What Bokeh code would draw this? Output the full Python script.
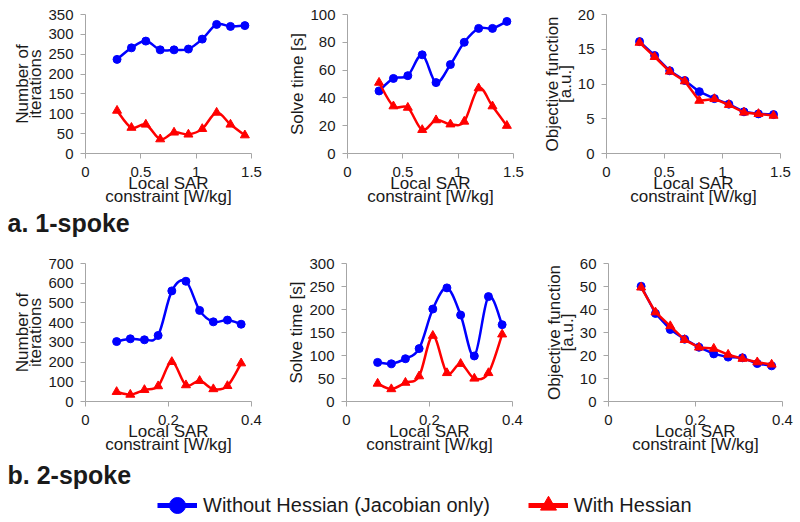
import numpy as np
from bokeh.plotting import figure
from bokeh.layouts import column, row
from bokeh.models import Range1d, FixedTicker, NumeralTickFormatter, Legend, LegendItem
from bokeh.embed import file_html
from bokeh.resources import INLINE
from bokeh.core.properties import value

# ---------------- data ----------------
sar_1spoke = [0.285, 0.415, 0.545, 0.675, 0.80, 0.93, 1.055, 1.185, 1.31, 1.44]
sar_2spoke = [0.075, 0.108, 0.142, 0.175, 0.208, 0.242, 0.275, 0.308, 0.342, 0.375]

iter1_jac = [237, 266, 283, 261, 261, 263, 288, 325, 320, 322]
iter1_hes = [108, 65, 73, 36, 53, 48, 62, 103, 73, 46]
time1_jac = [45, 54, 56, 71, 51, 64, 80, 90, 90, 95]
time1_hes = [51, 34, 33, 17, 24, 21, 23, 47, 34, 20]
obj1_jac = [16.1, 14.1, 11.9, 10.5, 8.9, 7.9, 7.1, 6.0, 5.7, 5.6]
obj1_hes = [15.95, 13.9, 11.8, 10.4, 7.6, 7.85, 7.0, 5.9, 5.7, 5.45]

iter2_jac = [304, 318, 313, 335, 561, 610, 462, 404, 413, 392]
iter2_hes = [49, 35, 59, 78, 201, 83, 105, 63, 79, 194]
time2_jac = [85, 82, 93, 115, 201, 247, 188, 99, 228, 167]
time2_hes = [39, 27, 41, 55, 143, 62, 82, 50, 62, 146]
obj2_jac = [50.1, 38.3, 31.3, 27.1, 23.6, 20.7, 19.3, 19.0, 16.5, 15.5]
obj2_hes = [49.6, 38.8, 32.8, 26.8, 23.5, 23.0, 20.4, 18.6, 17.1, 16.1]

xticks_1spoke = [0, 0.5, 1, 1.5]
xticks_2spoke = [0, 0.2, 0.4]
yticks_iter1 = [0, 50, 100, 150, 200, 250, 300, 350]
yticks_time1 = [0, 20, 40, 60, 80, 100]
yticks_obj1 = [0, 5, 10, 15, 20]
yticks_iter2 = [0, 100, 200, 300, 400, 500, 600, 700]
yticks_time2 = [0, 50, 100, 150, 200, 250, 300]
yticks_obj2 = [0, 10, 20, 30, 40, 50, 60]

label_jac = "Without Hessian (Jacobian only)"
label_hes = "With Hessian"
xlabel = "Local SAR\nconstraint [W/kg]"

BLUE = "#0000ff"
RED = "#ff0000"
AXIS_GRAY = "#a6a6a6"
TEXT = "#1a1a1a"
FONT = "Liberation Sans"


def bezier_parts(x, y):
    """Catmull-Rom (Excel-style smoothed line) bezier segments from data."""
    x = np.asarray(x, float)
    y = np.asarray(y, float)
    n = len(x)
    xp = np.concatenate([[x[0]], x, [x[-1]]])
    yp = np.concatenate([[y[0]], y, [y[-1]]])
    sx, ex, px, nx = xp[1:n], xp[2:n + 1], xp[0:n - 1], xp[3:n + 2]
    sy, ey, py, ny = yp[1:n], yp[2:n + 1], yp[0:n - 1], yp[3:n + 2]
    return dict(x0=sx, y0=sy, x1=ex, y1=ey,
                cx0=sx + (ex - px) / 6, cy0=sy + (ey - py) / 6,
                cx1=ex - (nx - sx) / 6, cy1=ey - (ny - sy) / 6)


def panel(x, yj, yh, xmax, xticks, ymax, yticks, ylabel, smooth,
          frame_w, frame_h, bl, br, bt, bb):
    p = figure(frame_width=frame_w, frame_height=frame_h,
               x_range=Range1d(0, xmax), y_range=Range1d(0, ymax),
               output_backend="svg", toolbar_location=None,
               min_border_left=bl, min_border_right=br,
               min_border_top=bt, min_border_bottom=bb)
    p.outline_line_color = None
    p.grid.visible = False
    p.xaxis.ticker = FixedTicker(ticks=xticks)
    p.yaxis.ticker = FixedTicker(ticks=yticks)
    p.xaxis.formatter = NumeralTickFormatter(format="0.[0]")
    p.xaxis.axis_label = xlabel
    p.yaxis.axis_label = ylabel
    for ax in (p.xaxis[0], p.yaxis[0]):
        ax.axis_line_color = AXIS_GRAY
        ax.major_tick_line_color = AXIS_GRAY
        ax.minor_tick_line_color = None
        ax.major_tick_in = 0
        ax.major_tick_out = 5
        ax.major_label_text_font = FONT
        ax.major_label_text_font_size = "15px"
        ax.major_label_text_color = TEXT
        ax.axis_label_text_font = FONT
        ax.axis_label_text_font_size = "17px"
        ax.axis_label_text_font_style = "normal"
        ax.axis_label_text_color = TEXT
        ax.axis_label_text_line_height = 0.7
    p.xaxis.major_label_standoff = 8
    p.xaxis.axis_label_standoff = -6
    p.yaxis.major_label_standoff = 7
    p.yaxis.axis_label_standoff = 0

    for yy, col, marker, sz in ((yj, BLUE, "circle", 8), (yh, RED, "triangle", 9)):
        if smooth:
            p.bezier(line_color=col, line_width=2.5, **bezier_parts(x, yy))
        else:
            p.line(x, yy, line_color=col, line_width=2.5)
        p.scatter(x, yy, marker=marker, size=sz, fill_color=col, line_color=col)
    return p


# row 1 : 1-spoke
f1 = panel(sar_1spoke, iter1_jac, iter1_hes, 1.5, xticks_1spoke, 350, yticks_iter1,
           "Number of\niterations", True, 166, 139, 85, 14, 14, 55)
f2 = panel(sar_1spoke, time1_jac, time1_hes, 1.5, xticks_1spoke, 100, yticks_time1,
           "Solve time [s]", True, 166, 139, 82, 13, 14, 55)
f3 = panel(sar_1spoke, obj1_jac, obj1_hes, 1.5, xticks_1spoke, 20, yticks_obj1,
           "Objective function\n[a.u.]", False, 174, 139, 80, 20, 14, 55)

# row 2 : 2-spoke
f4 = panel(sar_2spoke, iter2_jac, iter2_hes, 0.4, xticks_2spoke, 700, yticks_iter2,
           "Number of\niterations", True, 166, 138, 85, 14, 23, 55)
f5 = panel(sar_2spoke, time2_jac, time2_hes, 0.4, xticks_2spoke, 300, yticks_time2,
           "Solve time [s]", True, 166, 138, 81, 14, 23, 55)
f6 = panel(sar_2spoke, obj2_jac, obj2_hes, 0.4, xticks_2spoke, 60, yticks_obj2,
           "Objective function\n[a.u.]", False, 174, 138, 82, 18, 23, 55)


def strip(h):
    s = figure(width=800, height=h, x_range=Range1d(0, 800), y_range=Range1d(0, h),
               output_backend="svg", toolbar_location=None, min_border=0,
               x_axis_type=None, y_axis_type=None)
    s.outline_line_color = None
    s.grid.visible = False
    return s


sA = strip(32)
sA.text(x=[7], y=[18], text=["a. 1-spoke"], text_font=value(FONT), text_font_style="bold",
        text_font_size="25px", text_baseline="middle", text_align="left", text_color=TEXT)

sB = strip(66)
sB.text(x=[7], y=[48], text=["b. 2-spoke"], text_font=value(FONT), text_font_style="bold",
        text_font_size="25px", text_baseline="middle", text_align="left", text_color=TEXT)

# legend renderers: real series drawn on an off-screen range, only their legend glyphs show
sB.extra_x_ranges = {"off": Range1d(100, 101)}
lj = sB.line(sar_1spoke, iter1_jac, x_range_name="off", line_color=BLUE, line_width=5)
mj = sB.scatter(sar_1spoke, iter1_jac, x_range_name="off", marker="circle", size=16,
                fill_color=BLUE, line_color=BLUE)
lh = sB.line(sar_1spoke, iter1_hes, x_range_name="off", line_color=RED, line_width=5)
mh = sB.scatter(sar_1spoke, iter1_hes, x_range_name="off", marker="triangle", size=16,
                fill_color=RED, line_color=RED)
legend = Legend(items=[LegendItem(label=label_jac, renderers=[lj, mj]),
                       LegendItem(label=label_hes, renderers=[lh, mh])],
                location=(157, -3), orientation="horizontal", spacing=38,
                padding=0, margin=0, glyph_width=40, glyph_height=40, label_standoff=6,
                label_text_font=FONT, label_text_font_size="20px", label_text_color=TEXT,
                border_line_color=None, background_fill_alpha=0)
sB.add_layout(legend)

layout = column(row(f1, f2, f3), sA, row(f4, f5, f6), sB)

open("out.html", "w").write(file_html(layout, INLINE))
